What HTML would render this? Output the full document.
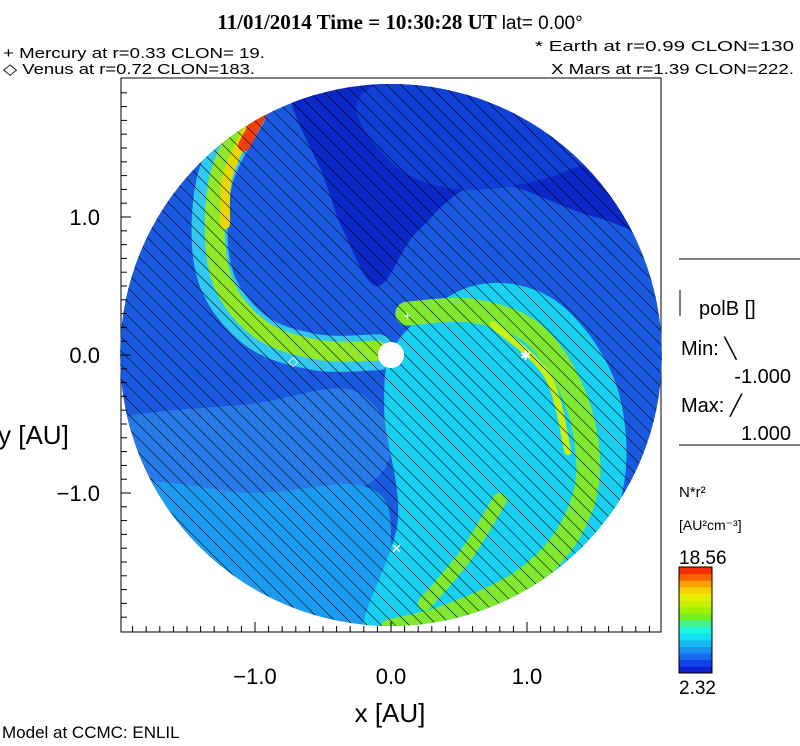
<!DOCTYPE html>
<html><head><meta charset="utf-8"><style>
html,body{margin:0;background:#fff;width:800px;height:746px;overflow:hidden}
svg{display:block}
svg text{font-family:"Liberation Sans",sans-serif;fill:#000}
</style></head><body>
<svg id="c" width="800" height="746" viewBox="0 0 800 746" xmlns="http://www.w3.org/2000/svg">
<defs><clipPath id="disc"><circle cx="391" cy="355" r="271"/></clipPath></defs>
<text x="400" y="29" text-anchor="middle" font-weight="bold" font-size="21" style="font-family:'Liberation Serif',serif">11/01/2014 Time = 10:30:28 UT <tspan font-weight="normal" font-size="19" style="font-family:'Liberation Sans',sans-serif">lat= 0.00°</tspan></text>
<text x="3" y="58" font-size="15" textLength="262" lengthAdjust="spacingAndGlyphs">+ Mercury at r=0.33 CLON= 19.</text>
<text x="3" y="74" font-size="15" textLength="252" lengthAdjust="spacingAndGlyphs">◇ Venus at r=0.72 CLON=183.</text>
<text x="535" y="51" font-size="15" textLength="259" lengthAdjust="spacingAndGlyphs">* Earth at  r=0.99 CLON=130</text>
<text x="551" y="74" font-size="15" textLength="243" lengthAdjust="spacingAndGlyphs">X Mars at r=1.39 CLON=222.</text>
<rect x="121" y="78" width="540" height="554" fill="none" stroke="#000"/>
<g id="field" clip-path="url(#disc)"></g>
<g id="hatch" clip-path="url(#disc)" stroke="#000" stroke-width="0.6"></g>
<circle cx="391" cy="355" r="13" fill="#fff"/>
<g id="planets"></g>
<g id="axes"></g>
<text x="390" y="722" text-anchor="middle" font-size="26">x [AU]</text>
<text x="-2" y="444" font-size="26">y [AU]</text>
<line x1="679" y1="259" x2="800" y2="259" stroke="#000"/>
<line x1="680" y1="290" x2="680" y2="316" stroke="#000"/>
<text x="699" y="315" font-size="20">polB []</text>
<text x="681" y="355" font-size="20">Min: ╲</text>
<text x="791" y="383" text-anchor="end" font-size="20">-1.000</text>
<text x="681" y="412" font-size="20">Max: ╱</text>
<text x="791" y="440" text-anchor="end" font-size="20">1.000</text>
<line x1="679" y1="445" x2="800" y2="445" stroke="#000"/>
<text x="679" y="497" font-size="15">N*r²</text>
<text x="679" y="530" font-size="14">[AU²cm⁻³]</text>
<text x="679" y="564" font-size="19">18.56</text>
<g id="cbar"></g>
<text x="679" y="694" font-size="19">2.32</text>
<text x="2" y="738" font-size="17">Model at CCMC: ENLIL</text>
</svg>
<script>
const ticks=[-1.0,0.0,1.0];
const tickLabels=["−1.0","0.0","1.0"];
const planetNames=["mercury","venus","earth","mars"];
const planetX=[0.12,-0.72,0.99,0.04];
const planetY=[0.29,-0.04,0.0,-1.40];
const planetGlyph=["+","◇","✱","✕"];
const cbarColors=["#1020d0","#1040e8","#1868f0","#1890f0","#18b8f0","#10e0f0","#18f8e0","#40f090","#70f020","#a0f000","#c8f000","#e8f000","#f8d000","#f8a000","#f86000","#f03000"];
const SX=136,SY=138,CX=391,CY=355;
const X=x=>CX+SX*x, Y=y=>CY-SY*y;
const ns="http://www.w3.org/2000/svg";
function mk(t,a,p){const e=document.createElementNS(ns,t);for(const k in a)e.setAttribute(k,a[k]);p.appendChild(e);return e;}
function smooth(pts,closed){
 const P=pts.map(p=>[X(p[0]),Y(p[1])]);const n=P.length;let d='M'+P[0][0]+' '+P[0][1];
 const g=i=>closed?P[(i+n)%n]:P[Math.max(0,Math.min(n-1,i))];
 const m=closed?n:n-1;
 for(let i=0;i<m;i++){const p0=g(i-1),p1=g(i),p2=g(i+1),p3=g(i+2);
  d+=' C'+(p1[0]+(p2[0]-p0[0])/6)+' '+(p1[1]+(p2[1]-p0[1])/6)+' '+(p2[0]-(p3[0]-p1[0])/6)+' '+(p2[1]-(p3[1]-p1[1])/6)+' '+p2[0]+' '+p2[1];}
 return closed?d+'Z':d;}
const F=document.getElementById('field');
const bg=mk('circle',{cx:CX,cy:CY,r:271,fill:'#1a5ae0'},F);


function poly(pts,fill,name){const e=mk('path',{d:smooth(pts,true),fill:fill},F);

}
function band(pts,col,w,name){const e=mk('path',{d:smooth(pts,false),fill:'none',stroke:col,'stroke-width':w,'stroke-linecap':'round'},F);

}
poly([[-0.75,1.9],[-0.5,1.3],[-0.35,0.9],[-0.1,0.5],[0.2,0.9],[0.7,1.25],[1.5,1.0],[2.2,0.9],[2.2,2.2],[-0.6,2.2]],'#0c28c8','dark-upper-region');
poly([[-0.2,1.9],[0.0,1.4],[0.5,1.2],[1.2,1.3],[1.6,1.6],[1.0,2.2]],'#1040d8','mid-upper-band');
poly([[-2.1,-0.5],[-1.0,-0.35],[-0.3,-0.25],[0.0,-0.6],[-0.2,-0.95],[-1.0,-1.0],[-2.1,-1.0]],'#2a7ae8','blue-lower-left');
poly([[-2.1,-1.0],[-1.0,-1.0],[-0.2,-0.95],[0.0,-1.3],[-0.2,-2.2],[-2.1,-2.2]],'#1c9cf0','light-blue-lower-left');
poly([[0.05,0.1],[0.6,0.5],[1.2,0.4],[1.65,-0.2],[1.7,-1.0],[1.3,-1.7],[0.6,-2.1],[-0.2,-2.1],[0.05,-1.2],[-0.05,-0.4]],'#18d0f0','cyan-stream');
band([[0.12,0.3],[0.6,0.32],[1.05,0.15],[1.35,-0.3],[1.45,-0.85],[1.3,-1.3],[0.95,-1.65],[0.4,-1.9],[0.0,-2.0]],'#80e830',24,'green-stream-right');
band([[0.75,0.22],[1.15,-0.15],[1.3,-0.7]],'#c8f010',7,'yellow-core-right');
band([[0.8,-1.05],[0.55,-1.45],[0.25,-1.8]],'#80e830',14,'green-stream-lower');
band([[-1.05,1.75],[-1.3,1.25],[-1.3,0.6],[-1.0,0.18],[-0.55,0.02],[-0.1,0.02]],'#30c8f0',36,'cyan-stream-left');
band([[-1.05,1.75],[-1.27,1.25],[-1.26,0.6],[-0.98,0.2],[-0.55,0.04],[-0.1,0.03]],'#90e828',20,'green-stream-left');
band([[-1.02,1.7],[-1.2,1.3],[-1.22,0.95]],'#e8d800',10,'yellow-core-left');
band([[-0.95,1.76],[-1.08,1.52]],'#f04010',12,'red-peak');
const H=document.getElementById('hatch');
for(let c=-560;c<=560;c+=14){mk('line',{x1:CX-300,y1:CY-300+c,x2:CX+300,y2:CY+300+c},H);}
const P=document.getElementById('planets');
planetNames.forEach((n,i)=>{const t=mk('text',{x:X(planetX[i]),y:Y(planetY[i])+5,'text-anchor':'middle','font-size':13,style:'fill:#fff'},P);t.textContent=planetGlyph[i];

});
const A=document.getElementById('axes');
for(let k=-19;k<=19;k++){const v=k/10,big=k%10===0;const xx=X(v);
 if(xx>121&&xx<661){mk('line',{x1:xx,y1:632,x2:xx,y2:632-(big?10:6),stroke:'#000'},A);}
 const yy=Y(v);if(yy>78&&yy<632){mk('line',{x1:121,y1:yy,x2:121+(big?10:6),y2:yy,stroke:'#000'},A);}}
ticks.forEach((v,i)=>{const t=mk('text',{x:X(v),y:684,'text-anchor':'middle','font-size':22},A);t.textContent=tickLabels[i];


const u=mk('text',{x:100,y:Y(v)+8,'text-anchor':'end','font-size':22},A);u.textContent=tickLabels[i];

});
const CB=document.getElementById('cbar');const n=cbarColors.length,h=106/n;
cbarColors.forEach((c,i)=>{const r=mk('rect',{x:679,y:673-(i+1)*h,width:33,height:h+0.5,fill:c},CB);

});
mk('rect',{x:679,y:567,width:33,height:106,fill:'none',stroke:'#000'},CB);
</script>
</body></html>
